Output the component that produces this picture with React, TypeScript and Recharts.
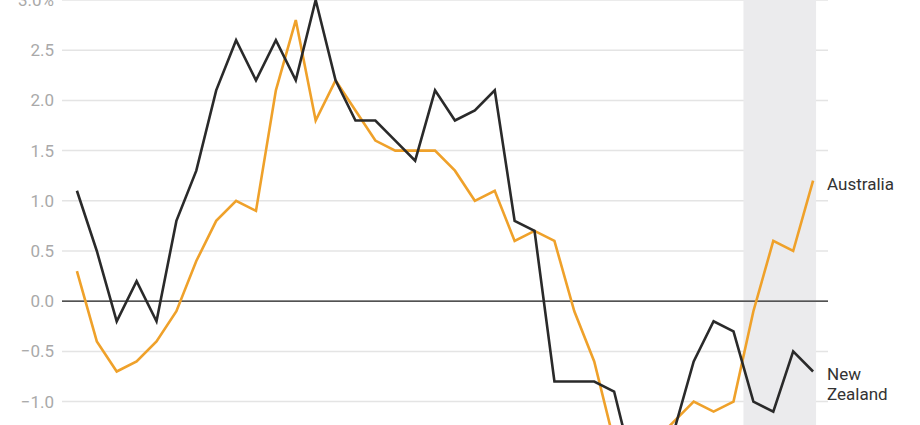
import { LineChart, Line, XAxis, YAxis, CartesianGrid, ReferenceLine, ReferenceArea } from "recharts"

// year-on-year change, %, one value per quarter
const australia = [
  0.3, -0.4, -0.7, -0.6, -0.4, -0.1, 0.4, 0.8, 1.0, 0.9,
  2.1, 2.8, 1.8, 2.2, 1.9, 1.6, 1.5, 1.5, 1.5, 1.3,
  1.0, 1.1, 0.6, 0.7, 0.6, -0.1, -0.6, -1.4, -1.6, -1.4,
  -1.2, -1.0, -1.1, -1.0, -0.1, 0.6, 0.5, 1.2,
]
const newZealand = [
  1.1, 0.5, -0.2, 0.2, -0.2, 0.8, 1.3, 2.1, 2.6, 2.2,
  2.6, 2.2, 3.0, 2.2, 1.8, 1.8, 1.6, 1.4, 2.1, 1.8,
  1.9, 2.1, 0.8, 0.7, -0.8, -0.8, -0.8, -0.9, -1.7, -1.6,
  -1.3, -0.6, -0.2, -0.3, -1.0, -1.1, -0.5, -0.7,
]
const yTicks = [-1, -0.5, 0, 0.5, 1, 1.5, 2, 2.5, 3]

// shaded band, in quarter index units
const shadeStart = 33.5
const shadeEnd = 37.15

const data = australia.map((v, i) => ({ t: i, australia: v, newZealand: newZealand[i] }))
const last = data.length - 1

const ORANGE = "#efa12a"
const DARK = "#2a2a2a"
const FONT = "Roboto, 'Noto Sans', sans-serif"

const fmt = (v: number) => {
  const s = Math.abs(v).toFixed(1)
  const out = v < 0 ? "\u2212" + s : s
  return v === 3 ? out + "%" : out
}

const endLabel = (lines: string[]) => (p: any) => {
  if (p.index !== last) return <g />
  return (
    <text x={p.x + 14} y={p.y + 9} fill="#333" fontSize={17} fontFamily={FONT}>
      {lines.map((l, i) => (
        <tspan key={i} x={p.x + 14} dy={i === 0 ? 0 : 20}>
          {l}
        </tspan>
      ))}
    </text>
  )
}

export default function App() {
  return (
    <div style={{ position: "absolute", left: 0, top: 0, width: 920, height: 425, overflow: "hidden", background: "#fff" }}>
      <div style={{ position: "absolute", left: 0, top: -20 }}>
        <LineChart width={920} height={532} data={data} margin={{ top: 20, right: 92, bottom: 10, left: 0 }}>
          <CartesianGrid vertical={false} stroke="#e4e4e4" strokeWidth={1.5} />
          <ReferenceArea x1={shadeStart} x2={shadeEnd} fill="#ebebed" fillOpacity={1} stroke="none" />
          <XAxis dataKey="t" type="number" domain={[-0.75, 37.75]} hide />
          <YAxis
            domain={[-2, 3]}
            ticks={yTicks}
            width={62}
            axisLine={false}
            tickLine={false}
            tickFormatter={fmt}
            tick={{ fill: "#a9a9a9", fontSize: 17, fontFamily: FONT }}
          />
          <ReferenceLine y={0} stroke="#222" strokeWidth={1.3} />
          <Line
            dataKey="australia"
            stroke={ORANGE}
            strokeWidth={2.6}
            dot={false}
            isAnimationActive={false}
            label={endLabel(["Australia"])}
          />
          <Line
            dataKey="newZealand"
            stroke={DARK}
            strokeWidth={2.6}
            dot={false}
            isAnimationActive={false}
            label={endLabel(["New", "Zealand"])}
          />
        </LineChart>
      </div>
    </div>
  )
}
